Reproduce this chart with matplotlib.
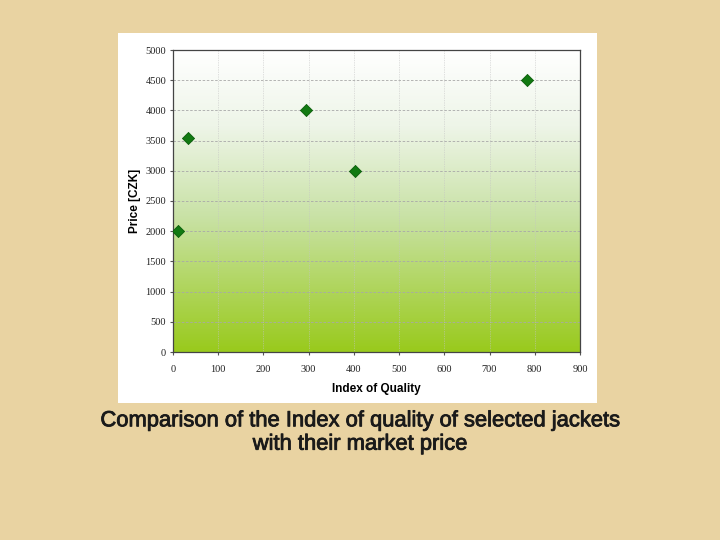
import numpy as np
import matplotlib.pyplot as plt
import matplotlib.patheffects as pe
from matplotlib.patches import Rectangle
from matplotlib.colors import LinearSegmentedColormap

# indice de qualité et prix des vestes
quality_index = [10, 33, 295, 403, 783]
price_czk = [2000, 3550, 4000, 3000, 4500]

x_ticks = list(range(0, 901, 100))
y_ticks = list(range(0, 5001, 500))

fig = plt.figure(figsize=(7.2, 5.4), dpi=100)
fig.patch.set_facecolor("#E9D3A2")

# panneau blanc derrière le graphique
fig.patches.append(Rectangle((118/720, 1-403/540), (597-118)/720, (403-33)/540,
                             transform=fig.transFigure, facecolor="white",
                             edgecolor="none", zorder=-5))

ax = fig.add_axes([173/720, 1-352/540, (580-173)/720, (352-50)/540])
ax.set_zorder(2)

# dégradé vert du fond de la zone de tracé
cmap = LinearSegmentedColormap.from_list("g", [(0, "#99CA1C"), (0.45, "#C9E2A6"),
                                               (0.75, "#EEF5E8"), (1, "#FFFFFF")])
grad = np.linspace(0, 1, 256).reshape(-1, 1)
ax.imshow(grad, cmap=cmap, aspect="auto", origin="lower",
          extent=[0, 900, 0, 5000], zorder=0)

ax.scatter(quality_index, price_czk, marker="D", s=38, color="#127A12",
           edgecolors="#0B5E0B", linewidths=0.6, zorder=3)

ax.set_xlim(0, 900)
ax.set_ylim(0, 5000)
ax.set_xticks(x_ticks)
ax.set_yticks(y_ticks)
ax.tick_params(labelsize=7.5, length=2, color="#555555", labelcolor="#222222")
ax.tick_params(axis="x", pad=7)
ax.tick_params(axis="y", pad=3)
for lab in ax.get_xticklabels() + ax.get_yticklabels():
    lab.set_fontfamily("Liberation Serif")

for y in y_ticks[1:-1]:
    ax.axhline(y, color="#A8A8A8", lw=0.6, ls=(0, (3, 2)), zorder=1)
for x in x_ticks[1:-1]:
    ax.axvline(x, color="#C4C4C4", lw=0.5, ls=(0, (1, 1.5)), zorder=1)

for s in ax.spines.values():
    s.set_color("#444444")
    s.set_linewidth(0.9)

ax.set_xlabel("Index of Quality", fontsize=8.5, fontweight="bold",
              fontfamily="Liberation Sans", labelpad=7)
ax.set_ylabel("Price [CZK]", fontsize=8.5, fontweight="bold",
              fontfamily="Liberation Sans", labelpad=3)

fig.text(0.5, 1-432.5/540, "Comparison of the Index of quality of selected jackets\nwith their market price",
         ha="center", va="center", fontsize=15.8, color="#1A1A1A",
         fontfamily="Liberation Sans", linespacing=1.15,
         path_effects=[pe.withStroke(linewidth=0.6, foreground="#1A1A1A")])

plt.savefig("out.png", dpi=100, facecolor=fig.get_facecolor())
